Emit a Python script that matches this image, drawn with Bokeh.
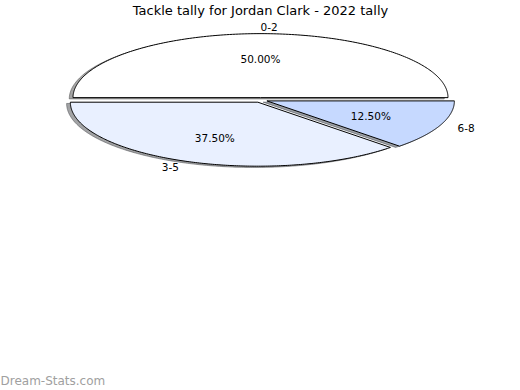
import numpy as np
from bokeh.plotting import figure
from bokeh.models import Range1d, Label
from bokeh.core.properties import value
from bokeh.embed import file_html
from bokeh.resources import INLINE

# ---- data ----
title_text = "Tackle tally for Jordan Clark - 2022 tally"
categories = ["0-2", "3-5", "6-8"]
shares = [50.0, 37.5, 12.5]
colors = ["#ffffff", "#e9f0ff", "#c6d9ff"]
watermark = "Dream-Stats.com"

# ---- layout / style ----
W, H = 520, 390
CX_PX, CY_PX = 260.0, 99.5      # pie centre in pixels (from top-left)
RX_PX, RY_PX = 187.5, 64.0       # pixel size of one data unit in x / y
EXPLODE = 0.037
SHADOW_OFF = (-0.02, -0.02)
FONT = "DejaVu Sans"

p = figure(width=W, height=H, output_backend="svg", toolbar_location=None,
           x_range=Range1d(-CX_PX / RX_PX, (W - CX_PX) / RX_PX),
           y_range=Range1d(-(H - CY_PX) / RY_PX, CY_PX / RY_PX),
           x_axis_location=None, y_axis_location=None, min_border=0,
           title=None)
p.grid.visible = False
p.outline_line_color = None
p.background_fill_color = "white"
p.border_fill_color = "white"

total = float(sum(shares))
fracs = [s / total for s in shares]
starts = np.cumsum([0.0] + fracs[:-1]) * 2 * np.pi
ends = np.cumsum(fracs) * 2 * np.pi

wx, wy, sx, sy, shade = [], [], [], [], []
lab_x, lab_y, lab_align = [], [], []
pct_x, pct_y, pct_txt = [], [], []
for st, en, c, s in zip(starts, ends, colors, shares):
    mid = 0.5 * (st + en)
    ox, oy = EXPLODE * np.cos(mid), EXPLODE * np.sin(mid)
    th = np.linspace(st, en, 200)
    xs = np.concatenate([[ox], ox + np.cos(th), [ox]])
    ys = np.concatenate([[oy], oy + np.sin(th), [oy]])
    wx.append(list(xs)); wy.append(list(ys))
    sx.append(list(xs + SHADOW_OFF[0])); sy.append(list(ys + SHADOW_OFF[1]))
    rgb = np.array([int(c[i:i + 2], 16) for i in (1, 3, 5)]) * 0.3
    shade.append("#%02x%02x%02x" % tuple(int(v) for v in rgb))
    lx = ox + 1.1 * np.cos(mid)
    ly = oy + 1.1 * np.sin(mid)
    lab_x.append(lx); lab_y.append(ly)
    lab_align.append("left" if np.cos(mid) >= -1e-9 else "right")
    pct_x.append(ox + 0.6 * np.cos(mid)); pct_y.append(oy + 0.6 * np.sin(mid))
    pct_txt.append(f"{s:.2f}%")

# shadows
p.patches(sx, sy, fill_color=shade, fill_alpha=0.5, line_color=shade,
          line_alpha=0.5, line_width=1)
# wedges
p.patches(wx, wy, fill_color=colors, line_color="black", line_width=1)

# category labels
for x, y, t, a in zip(lab_x, lab_y, categories, lab_align):
    p.text([x], [y], text=[t], text_align=a, text_baseline="middle",
           text_font=value(FONT), text_font_size="10.5px", text_color="black")
# percentage labels
p.text(pct_x, pct_y, text=pct_txt, text_align="center", text_baseline="middle",
       text_font=value(FONT), text_font_size="10.5px", text_color="black")

# title
p.add_layout(Label(x=W / 2, y=H - 10, x_units="screen", y_units="screen",
                   text=title_text, text_align="center", text_baseline="middle",
                   text_font=FONT, text_font_size="13px", text_color="black"))
# watermark
p.add_layout(Label(x=0, y=H - 380, x_units="screen", y_units="screen",
                   text=watermark, text_align="left", text_baseline="middle",
                   text_font=FONT, text_font_size="12px", text_color="#a0a0a0"))

open("out.html", "w").write(file_html(p, INLINE))
